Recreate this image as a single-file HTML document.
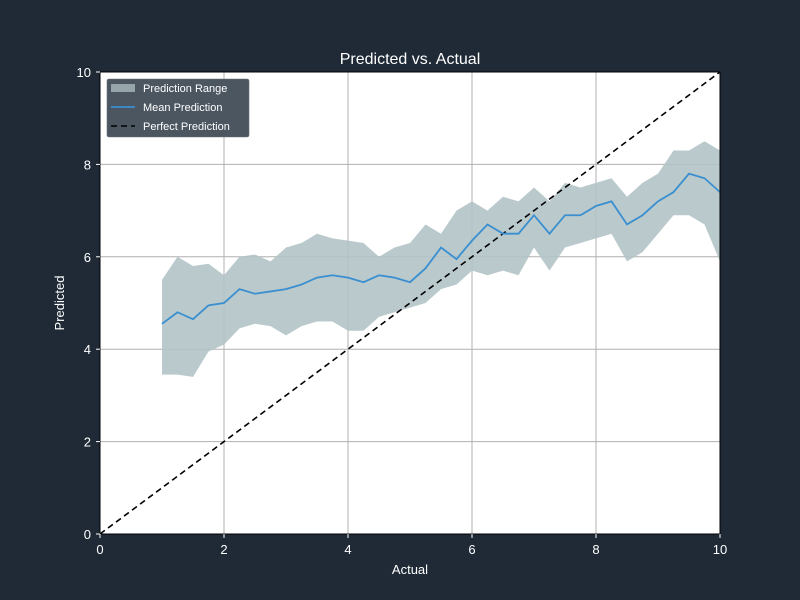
<!DOCTYPE html>
<html><head><meta charset="utf-8"><style>
body{margin:0;background:#1f2a36;}
svg{display:block;font-family:"Liberation Sans","DejaVu Sans",sans-serif;}
</style></head><body>
<svg id="chart" width="800" height="600">
<rect x="0" y="0" width="800" height="600" fill="#1f2a36"/>
<rect x="100" y="72" width="620" height="462" fill="#ffffff"/>
<g id="grid"></g>
<path id="band" fill="#b3c3c6" fill-opacity="0.9"/>
<line id="perfect" stroke="#000" stroke-width="1.6" stroke-dasharray="6,4"/>
<polyline id="mean" fill="none" stroke="#3a8fd0" stroke-width="1.8"/>
<rect x="100" y="72" width="620" height="462" fill="none" stroke="#000" stroke-width="1"/>
<g id="ticks"></g>
<text x="410" y="64" fill="#fff" font-size="16" text-anchor="middle">Predicted vs. Actual</text>
<text x="410" y="574" fill="#fff" font-size="13" text-anchor="middle">Actual</text>
<text x="64" y="303" fill="#fff" font-size="13" text-anchor="middle" transform="rotate(-90 64 303)">Predicted</text>
<g>
<rect x="107" y="79" width="142" height="58" rx="2" fill="#4b5661" stroke="#6a737c" stroke-width="0.6"/>
<rect x="111" y="84" width="24" height="8" fill="#95a5aa"/>
<text x="143" y="92" fill="#fff" font-size="11">Prediction Range</text>
<line x1="111" y1="107" x2="135" y2="107" stroke="#3a8fd0" stroke-width="1.8"/>
<text x="143" y="111" fill="#fff" font-size="11">Mean Prediction</text>
<line x1="111" y1="126" x2="135" y2="126" stroke="#000" stroke-width="1.6" stroke-dasharray="6,4"/>
<text x="143" y="130" fill="#fff" font-size="11">Perfect Prediction</text>
</g>
</svg>
<script>
const actual=[1,1.25,1.5,1.75,2,2.25,2.5,2.75,3,3.25,3.5,3.75,4,4.25,4.5,4.75,5,5.25,5.5,5.75,6,6.25,6.5,6.75,7,7.25,7.5,7.75,8,8.25,8.5,8.75,9,9.25,9.5,9.75,10];
const meanPred=[4.55,4.8,4.65,4.95,5.0,5.3,5.2,5.25,5.3,5.4,5.55,5.6,5.55,5.45,5.6,5.55,5.45,5.75,6.2,5.95,6.35,6.7,6.5,6.5,6.9,6.5,6.9,6.9,7.1,7.2,6.7,6.9,7.2,7.4,7.8,7.7,7.4];
const upperPred=[5.5,6.0,5.8,5.85,5.6,6.0,6.05,5.9,6.2,6.3,6.5,6.4,6.35,6.3,6.0,6.2,6.3,6.7,6.5,7.0,7.2,7.0,7.3,7.2,7.5,7.2,7.6,7.5,7.6,7.7,7.3,7.6,7.8,8.3,8.3,8.5,8.3];
const lowerPred=[3.45,3.45,3.4,3.95,4.1,4.45,4.55,4.5,4.3,4.5,4.6,4.6,4.4,4.4,4.7,4.8,4.9,5.0,5.3,5.4,5.7,5.6,5.7,5.6,6.2,5.7,6.2,6.3,6.4,6.5,5.9,6.1,6.5,6.9,6.9,6.7,5.9];
const xTicks=[0,2,4,6,8,10];
const yTicks=[0,2,4,6,8,10];
const sx=v=>100+v*62, sy=v=>534-v*46.2;
const NS="http://www.w3.org/2000/svg";
const grid=document.getElementById('grid'), ticks=document.getElementById('ticks');
xTicks.forEach(t=>{
 const l=document.createElementNS(NS,'line');
 l.setAttribute('x1',sx(t));l.setAttribute('x2',sx(t));l.setAttribute('y1',72);l.setAttribute('y2',534);
 l.setAttribute('stroke','#b0b0b0');l.setAttribute('stroke-width','1');
 
 
 grid.appendChild(l);
 const tm=document.createElementNS(NS,'line');
 tm.setAttribute('x1',sx(t));tm.setAttribute('x2',sx(t));tm.setAttribute('y1',534);tm.setAttribute('y2',538);tm.setAttribute('stroke','#fff');
 
 
 ticks.appendChild(tm);
 const tx=document.createElementNS(NS,'text');
 tx.setAttribute('x',sx(t));tx.setAttribute('y',554);tx.setAttribute('fill','#fff');tx.setAttribute('font-size','13');tx.setAttribute('text-anchor','middle');
 tx.textContent=t;
 
 
 ticks.appendChild(tx);
});
yTicks.forEach(t=>{
 const l=document.createElementNS(NS,'line');
 l.setAttribute('x1',100);l.setAttribute('x2',720);l.setAttribute('y1',sy(t));l.setAttribute('y2',sy(t));
 l.setAttribute('stroke','#b0b0b0');l.setAttribute('stroke-width','1');
 
 
 grid.appendChild(l);
 const tm=document.createElementNS(NS,'line');
 tm.setAttribute('x1',96);tm.setAttribute('x2',100);tm.setAttribute('y1',sy(t));tm.setAttribute('y2',sy(t));tm.setAttribute('stroke','#fff');
 
 
 ticks.appendChild(tm);
 const tx=document.createElementNS(NS,'text');
 tx.setAttribute('x',91);tx.setAttribute('y',sy(t)+5);tx.setAttribute('fill','#fff');tx.setAttribute('font-size','13');tx.setAttribute('text-anchor','end');
 tx.textContent=t;
 
 
 ticks.appendChild(tx);
});
let d='M'+actual.map((a,i)=>sx(a)+','+sy(upperPred[i])).join('L');
for(let i=actual.length-1;i>=0;i--) d+='L'+sx(actual[i])+','+sy(lowerPred[i]);
document.getElementById('band').setAttribute('d',d+'Z');
document.getElementById('mean').setAttribute('points',actual.map((a,i)=>sx(a)+','+sy(meanPred[i])).join(' '));
const p=document.getElementById('perfect');
p.setAttribute('x1',sx(0));p.setAttribute('y1',sy(0));p.setAttribute('x2',sx(10));p.setAttribute('y2',sy(10));
</script>
</body></html>
